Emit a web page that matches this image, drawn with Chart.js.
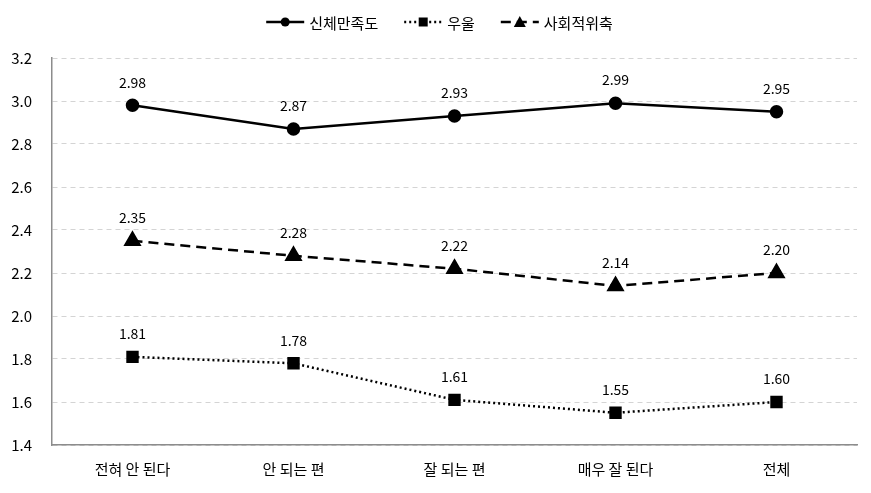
<!DOCTYPE html>
<html>
<head>
<meta charset="utf-8">
<script src="https://cdn.jsdelivr.net/npm/chart.js@4.4.1/dist/chart.umd.min.js"></script>
<style>
  html, body { margin: 0; padding: 0; background: #fff; }
  #wrap { width: 871px; height: 493px; }
</style>
</head>
<body>
<div id="wrap"><canvas id="lineChart" width="871" height="493"></canvas></div>
<script>
// 데이터
const categories = ['전혀 안 된다', '안 되는 편', '잘 되는 편', '매우 잘 된다', '전체'];
const bodySatisfaction = [2.98, 2.87, 2.93, 2.99, 2.95];
const depression = [1.81, 1.78, 1.61, 1.55, 1.60];
const socialShrink = [2.35, 2.28, 2.22, 2.14, 2.20];
const seriesNames = ['신체만족도', '우울', '사회적위축'];

const FONT = "'Noto Sans CJK KR', 'Noto Sans', sans-serif";

// 점 위에 값 표시
const valueLabels = {
    id: 'valueLabels',
    afterDatasetsDraw(chart) {
        const c = chart.ctx;
        c.save();
        c.font = '14px ' + FONT;
        c.fillStyle = '#000';
        c.textAlign = 'center';
        c.textBaseline = 'middle';
        chart.data.datasets.forEach((ds, i) => {
            chart.getDatasetMeta(i).data.forEach((pt, j) => {
                c.fillText(ds.data[j].toFixed(2), pt.x, pt.y - 23);
            });
        });
        c.restore();
    }
};

// 범례 (선 + 마커)
const lineLegend = {
    id: 'lineLegend',
    afterDraw(chart) {
        const c = chart.ctx;
        c.save();
        c.font = '15px ' + FONT;
        c.textBaseline = 'middle';
        const y = 22;
        const items = chart.data.datasets;
        const segW = 38, gap = 5, spacing = 26;
        let total = 0;
        items.forEach(ds => { total += segW + gap + c.measureText(ds.label).width; });
        total += spacing * (items.length - 1);
        let x = (chart.width - total) / 2 + 4;
        items.forEach(ds => {
            c.strokeStyle = '#000';
            c.lineWidth = ds.borderWidth;
            c.setLineDash(ds.borderDash || []);
            c.beginPath();
            c.moveTo(x, y);
            c.lineTo(x + segW, y);
            c.stroke();
            c.setLineDash([]);
            c.fillStyle = '#000';
            const mx = x + segW / 2;
            c.beginPath();
            if (ds.pointStyle === 'circle') {
                c.arc(mx, y, 4.5, 0, Math.PI * 2);
            } else if (ds.pointStyle === 'rect') {
                c.rect(mx - 4.5, y - 4.5, 9, 9);
            } else {
                c.moveTo(mx, y - 6);
                c.lineTo(mx + 6, y + 5);
                c.lineTo(mx - 6, y + 5);
                c.closePath();
            }
            c.fill();
            c.fillText(ds.label, x + segW + gap, y + 1);
            x += segW + gap + c.measureText(ds.label).width + spacing;
        });
        c.restore();
    }
};

const ctx = document.getElementById('lineChart').getContext('2d');
const lineChart = new Chart(ctx, {
    type: 'line',
    data: {
        labels: categories,
        datasets: [
            {
                label: seriesNames[0],
                data: bodySatisfaction,
                borderColor: '#000',
                backgroundColor: '#000',
                borderWidth: 2.5,
                pointStyle: 'circle',
                pointRadius: 5.5,
                tension: 0
            },
            {
                label: seriesNames[1],
                data: depression,
                borderColor: '#000',
                backgroundColor: '#000',
                borderWidth: 2.5,
                borderDash: [2, 3],
                pointStyle: 'rect',
                pointRadius: 7,
                tension: 0
            },
            {
                label: seriesNames[2],
                data: socialShrink,
                borderColor: '#000',
                backgroundColor: '#000',
                borderWidth: 2.5,
                borderDash: [10, 6],
                pointStyle: 'triangle',
                pointRadius: 8,
                tension: 0
            }
        ]
    },
    options: {
        responsive: false,
        animation: false,
        layout: { padding: { top: 58, left: 0, right: 14, bottom: 0 } },
        plugins: {
            legend: { display: false },
            tooltip: { enabled: false }
        },
        scales: {
            x: {
                offset: true,
                grid: { display: false, drawTicks: false },
                border: { color: '#8c8c8c', width: 1.5 },
                ticks: { color: '#000', font: { family: FONT, size: 15 }, padding: 15 }
            },
            y: {
                min: 1.4,
                max: 3.2,
                afterFit(scale) { scale.width = 52; },
                grid: { color: '#d4d4d4', drawTicks: false },
                border: { color: '#8c8c8c', width: 1.5, dash: [5, 4] },
                ticks: {
                    stepSize: 0.2,
                    color: '#000',
                    padding: 20,
                    font: { family: FONT, size: 15 },
                    callback: v => v.toFixed(1)
                }
            }
        }
    },
    plugins: [valueLabels, lineLegend]
});
</script>
</body>
</html>
